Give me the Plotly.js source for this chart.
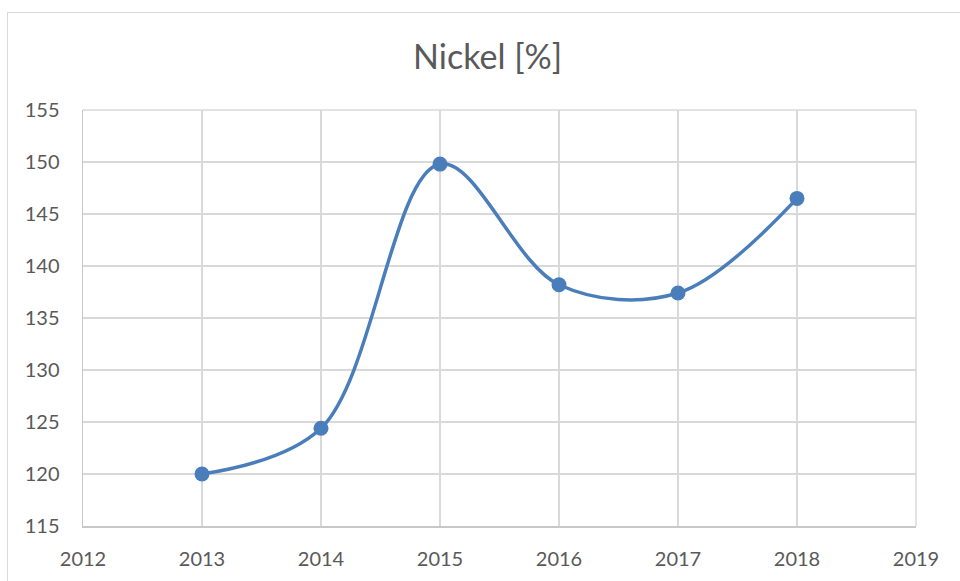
<!DOCTYPE html>
<html>
<head>
<meta charset="utf-8">
<script src="https://cdn.plot.ly/plotly-3.0.1.min.js"></script>
<style>
html,body{margin:0;padding:0;background:#fff;overflow:hidden;}
#wrap{position:relative;width:960px;height:581px;}
#chart{width:960px;height:581px;}
#frame{position:absolute;left:7px;top:12px;width:1000px;height:1000px;border:1px solid #d9d9d9;pointer-events:none;box-sizing:border-box;}
</style>
</head>
<body>
<div id="wrap"><div id="chart"></div><div id="frame"></div></div>
<script>
const years = [2013, 2014, 2015, 2016, 2017, 2018];
const nickel = [120.0, 124.4, 149.8, 138.2, 137.4, 146.5];
const xTicks = [2012, 2013, 2014, 2015, 2016, 2017, 2018, 2019];
const yTicks = [115, 120, 125, 130, 135, 140, 145, 150, 155];

const trace = {
  x: years, y: nickel, type: 'scatter', mode: 'lines+markers',
  line: {color: '#4a7ebb', width: 3.5, shape: 'spline', smoothing: 1},
  marker: {color: '#4a7ebb', size: 15},
  hoverinfo: 'x+y'
};
const layout = {
  width: 960, height: 581,
  margin: {l: 83, r: 44, t: 110, b: 55},
  paper_bgcolor: '#fff', plot_bgcolor: '#fff',
  font: {family: 'Lato, "Open Sans", sans-serif', color: '#595959', size: 20},
  title: {text: 'Nickel [%]', font: {size: 34, color: '#595959'}, x: 0.508, xanchor: 'center', y: 0.902, yanchor: 'middle'},
  showlegend: false,
  xaxis: {range: [2012, 2019], tickvals: xTicks, ticktext: xTicks.map(String), showgrid: true, gridcolor: '#d9d9d9', gridwidth: 1.5,
    showline: true, linecolor: '#c8c8c8', linewidth: 1.5, zeroline: false, ticks: '', ticklabelstandoff: 14, fixedrange: true},
  yaxis: {range: [115, 155], tickvals: yTicks, ticktext: yTicks.map(String), showgrid: true, gridcolor: '#d9d9d9', gridwidth: 1.5,
    showline: true, linecolor: '#c8c8c8', linewidth: 1.5, zeroline: false, ticks: '', ticklabelstandoff: 18, fixedrange: true},
  shapes: [{type: 'line', xref: 'paper', yref: 'paper', x0: 1, x1: 1, y0: 0, y1: 1, line: {color: '#d9d9d9', width: 1.5}},
           {type: 'line', xref: 'paper', yref: 'paper', x0: 0, x1: 1, y0: 1, y1: 1, line: {color: '#d9d9d9', width: 1.5}}]
};
Plotly.newPlot('chart', [trace], layout, {displayModeBar: false, staticPlot: true});
</script>
</body>
</html>
